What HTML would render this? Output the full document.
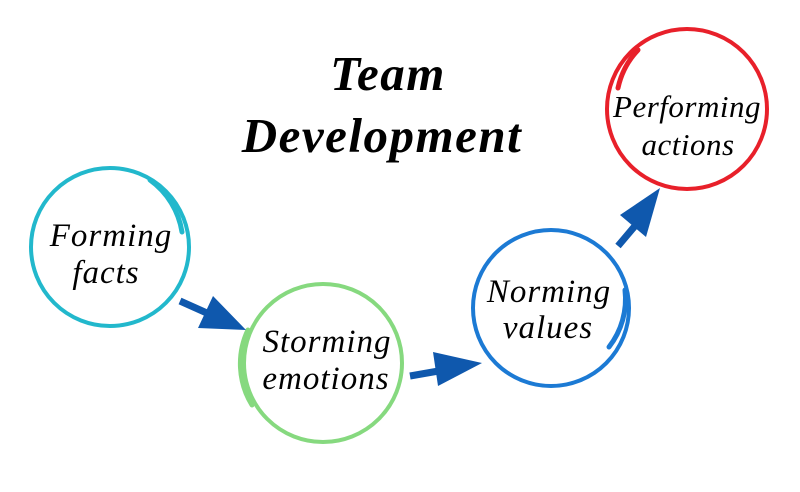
<!DOCTYPE html>
<html><head><style>
body{margin:0;background:#fff}
svg{display:block}
text{font-family:"Liberation Serif",serif;font-style:italic}
</style></head><body>
<svg width="800" height="492" viewBox="0 0 800 492">
<text x="388" y="90" font-size="49" font-weight="bold" text-anchor="middle" letter-spacing="1.5">Team</text>
<text x="382" y="152" font-size="49" font-weight="bold" text-anchor="middle" letter-spacing="1.5">Development</text>

<g fill="none" stroke-linecap="round">
<circle cx="110" cy="247" r="79" stroke="#22b8cc" stroke-width="4"/>
<path d="M150 180 A79 79 0 0 1 182 232" stroke="#22b8cc" stroke-width="5"/>
<circle cx="323" cy="363" r="79" stroke="#86d97f" stroke-width="4"/>
<path d="M252 405 A79 79 0 0 1 248 330" stroke="#86d97f" stroke-width="5"/>
<circle cx="551" cy="308" r="78" stroke="#1c7ad4" stroke-width="4"/>
<path d="M609 347 A78 78 0 0 0 625 290" stroke="#1c7ad4" stroke-width="5"/>
<circle cx="687" cy="109" r="80" stroke="#e8202a" stroke-width="4"/>
<path d="M618 88 A80 80 0 0 1 638 50" stroke="#e8202a" stroke-width="5"/>
</g>

<g fill="#0f58ad" stroke="#0f58ad">
<line x1="180" y1="301" x2="218" y2="318" stroke-width="7"/>
<polygon points="198,328 246,330 213,296" stroke="none"/>
<line x1="410" y1="376" x2="450" y2="369" stroke-width="7"/>
<polygon points="438,386 482,363 433,352" stroke="none"/>
<line x1="618" y1="246" x2="640" y2="220" stroke-width="7"/>
<polygon points="620,215 660,188 646,237" stroke="none"/>
</g>

<g font-size="33" text-anchor="middle" letter-spacing="1">
<text x="111" y="246">Forming</text>
<text x="106" y="283">facts</text>
<text x="327" y="352">Storming</text>
<text x="326" y="389">emotions</text>
<text x="549" y="302">Norming</text>
<text x="548" y="338">values</text>
<text x="687" y="117" font-size="31" letter-spacing="0.5">Performing</text>
<text x="688" y="155" font-size="31" letter-spacing="0.5">actions</text>
</g>
</svg>
</body></html>
